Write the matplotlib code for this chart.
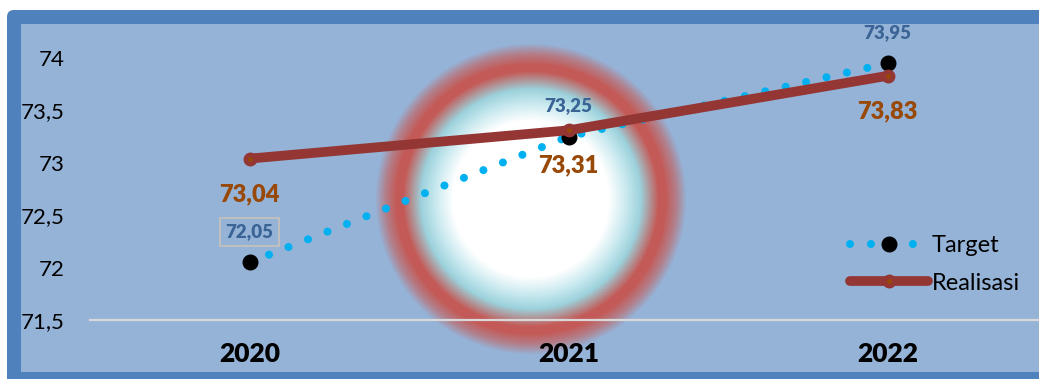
import numpy as np
import matplotlib
matplotlib.use("Agg")
import matplotlib.pyplot as plt
from matplotlib.colors import LinearSegmentedColormap
from matplotlib.patches import FancyBboxPatch, Rectangle

# data
years = ["2020", "2021", "2022"]
target = [72.05, 73.25, 73.95]
realisasi = [73.04, 73.31, 73.83]
target_labels = ["72,05", "73,25", "73,95"]
realisasi_labels = ["73,04", "73,31", "73,83"]
yticks = [71.5, 72, 72.5, 73, 73.5, 74]
ytick_labels = ["71,5", "72", "72,5", "73", "73,5", "74"]

W, H = 1039, 379
BG = "#95B3D7"
FRAME = "#4F81BD"
plt.rcParams["font.family"] = ["Lato", "DejaVu Sans"]

fig = plt.figure(figsize=(W / 100, H / 100), dpi=100)
fig.patch.set_facecolor("white")

# background layer: frame + glow, in pixel coords
bg = fig.add_axes([0, 0, 1, 1])
bg.set_xlim(0, W)
bg.set_ylim(H, 0)
bg.axis("off")
bg.add_patch(FancyBboxPatch((7, 10), W + 40, H + 40, boxstyle="round,pad=0,rounding_size=7",
                            facecolor=FRAME, edgecolor="none"))
bg.add_patch(Rectangle((21, 24), W + 40, 372 - 24, facecolor=BG, edgecolor="none"))

# radial glow behind the chart
cx, cy, R = 531, 199, 156
stops = [(0, "#FFFFFF"), (78, "#FFFFFF"), (96, "#C8E9EF"), (110, "#9CD2DC"),
         (128, "#C45A57"), (135, "#C45A57"), (146, "#B2808C"), (156, BG)]
cmap = LinearSegmentedColormap.from_list("glow", [(r / R, c) for r, c in stops])
yy, xx = np.mgrid[cy - R:cy + R, cx - R:cx + R] + 0.5
dist = np.clip(np.hypot(xx - cx, yy - cy) / R, 0, 1)
bg.imshow(cmap(dist), extent=(cx - R, cx + R, cy + R, cy - R), interpolation="bilinear",
          zorder=1)

# main chart
ymin, ymax = 71.5, 74.3
px_per_unit = 104.8
ax_left, ax_bottom = 90, 320
ax_w = 957
ax_h = (ymax - ymin) * px_per_unit
ax = fig.add_axes([ax_left / W, (H - ax_bottom) / H, ax_w / W, ax_h / H])
ax.set_facecolor("none")
x = np.arange(len(years))
ax.set_xlim(-0.5, len(years) - 0.5)
ax.set_ylim(ymin, ymax)

ax.plot(x, target, color="#00B0F0", lw=5.8, linestyle=(0, (0.001, 2.6)),
        dash_capstyle="round", marker="o", ms=10.5, mfc="black", mec="black",
        label="Target", zorder=3)
ax.plot(x, realisasi, color="#943634", lw=7, solid_capstyle="round", marker="o",
        ms=6.8, mew=3.2, mfc="#984807", mec="#943634", label="Realisasi", zorder=4)

for i, lab in enumerate(target_labels):
    bbox = None
    if i == 0:
        bbox = dict(boxstyle="square,pad=0.3", facecolor="none", edgecolor="#BFBFBF", lw=1.5)
    ax.annotate(lab, (x[i], target[i]), xytext=(0, 22), textcoords="offset points",
                ha="center", va="center", fontsize=13.5, fontweight="heavy",
                color="#3B6496", bbox=bbox, zorder=5)
for i, lab in enumerate(realisasi_labels):
    ax.annotate(lab, (x[i], realisasi[i]), xytext=(0, -25.5), textcoords="offset points",
                ha="center", va="center", fontsize=17, fontweight="heavy",
                color="#984807", zorder=5)

ax.set_xticks(x)
ax.set_xticklabels(years, fontsize=19, fontweight="heavy")
ax.set_yticks(yticks)
ax.set_yticklabels(ytick_labels, fontsize=16)
ax.tick_params(axis="x", length=0, pad=16)
ax.tick_params(axis="y", length=0, pad=18)
for s in ["top", "right", "left"]:
    ax.spines[s].set_visible(False)
ax.spines["bottom"].set_color("#D9D9D9")
ax.spines["bottom"].set_linewidth(1.6)

leg = ax.legend(loc="upper left", bbox_to_anchor=(850 / W, 1 - 235 / H),
                bbox_transform=fig.transFigure, frameon=False, fontsize=17,
                handlelength=3.3, handletextpad=0.15, labelspacing=0.7,
                borderpad=0, borderaxespad=0)

fig.savefig("out.png", dpi=100)
